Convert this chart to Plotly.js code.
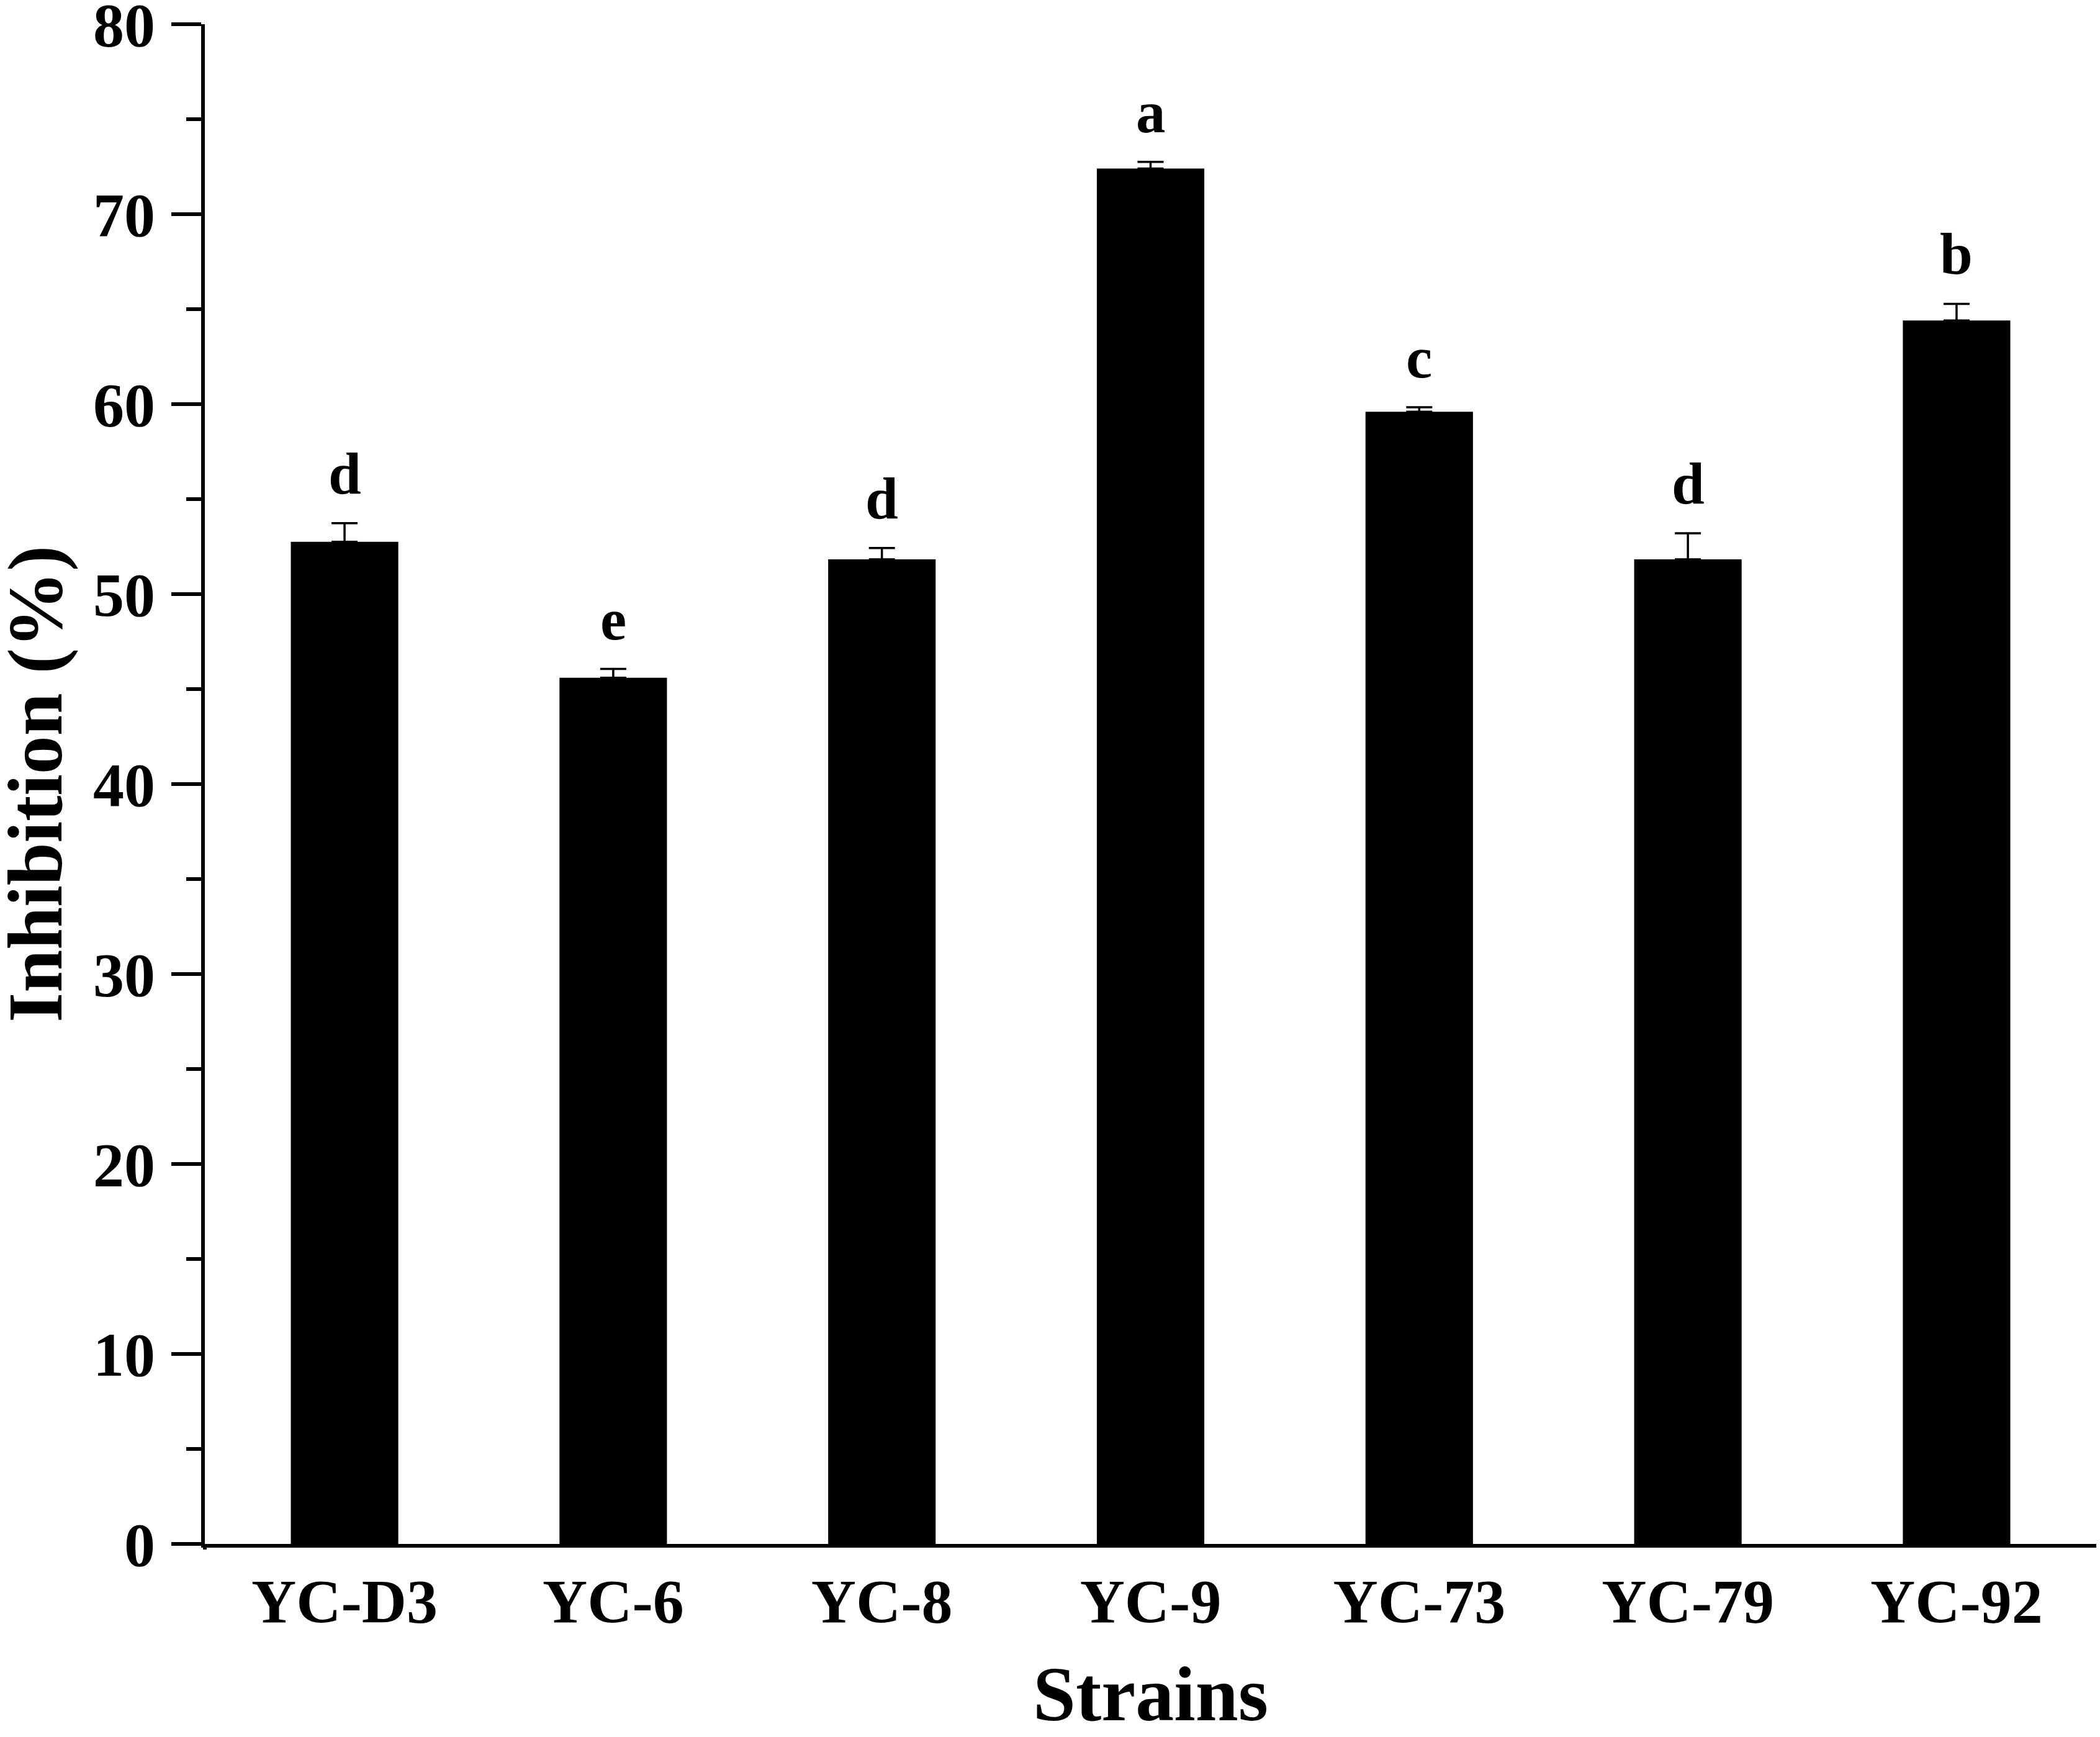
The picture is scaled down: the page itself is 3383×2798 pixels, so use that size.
<!DOCTYPE html>
<html>
<head>
<meta charset="utf-8">
<script src="https://cdn.plot.ly/plotly-3.0.1.min.js"></script>
<style>html,body{margin:0;padding:0;background:#fff;}#chart{width:3383px;height:2798px;}</style>
</head>
<body>
<div id="chart"></div>
<script>
const strains = ['YC-D3', 'YC-6', 'YC-8', 'YC-9', 'YC-73', 'YC-79', 'YC-92'];
const inhibition = [52.75, 45.6, 51.83, 72.4, 59.6, 51.83, 64.4];
const errors = [0.98, 0.46, 0.6, 0.35, 0.24, 1.37, 0.88];
const letters = ['d', 'e', 'd', 'a', 'c', 'd', 'b'];
const yTicks = [0, 10, 20, 30, 40, 50, 60, 70, 80];

const FONT = 'Liberation Serif, Times New Roman, serif';

const trace = {
  type: 'bar',
  x: strains,
  y: inhibition,
  width: 0.4,
  marker: {color: '#000000', line: {width: 0}},
  error_y: {
    type: 'data',
    symmetric: false,
    array: errors,
    arrayminus: errors.map(() => 0),
    color: '#000000',
    thickness: 3.5,
    width: 21
  },
  hoverinfo: 'none'
};

const annotations = strains.map((s, i) => ({
  x: s,
  y: inhibition[i] + errors[i],
  xref: 'x', yref: 'y',
  text: '<b>' + letters[i] + '</b>',
  showarrow: false,
  yanchor: 'bottom',
  yshift: 25,
  font: {family: FONT, size: 95, color: '#000'}
}));

annotations.push({
  xref: 'paper', yref: 'paper',
  x: 0, y: 0.5,
  xanchor: 'center', yanchor: 'middle',
  xshift: -273,
  textangle: -90,
  showarrow: false,
  text: '<b>Inhibition (%)</b>',
  font: {family: FONT, size: 124, color: '#000'}
});

const layout = {
  width: 3383,
  height: 2798,
  paper_bgcolor: '#ffffff',
  plot_bgcolor: '#ffffff',
  margin: {l: 330, r: 6, t: 39, b: 311, pad: 0},
  showlegend: false,
  font: {family: FONT, color: '#000'},
  xaxis: {
    type: 'category',
    range: [-0.52, 6.52],
    showline: true,
    linecolor: '#000',
    linewidth: 6,
    ticks: '',
    showgrid: false,
    zeroline: false,
    tickfont: {family: FONT, size: 100, color: '#000', weight: 'bold'},
    title: {text: '<b>Strains</b>', font: {family: FONT, size: 124, color: '#000'}, standoff: 66},
    automargin: false
  },
  yaxis: {
    range: [0, 80],
    tickvals: yTicks,
    ticktext: yTicks.map(v => '<b>' + v + '</b>'),
    ticklabeloverflow: 'allow',
    ticklabelstandoff: 6,
    showline: true,
    linecolor: '#000',
    linewidth: 6,
    ticks: 'outside',
    ticklen: 48,
    tickwidth: 6,
    tickcolor: '#000',
    minor: {dtick: 5, ticks: 'outside', ticklen: 24, tickwidth: 6, tickcolor: '#000', showgrid: false},
    showgrid: false,
    zeroline: false,
    tickfont: {family: FONT, size: 100, color: '#000'},
    automargin: false
  },
  shapes: [
    {type: 'line', xref: 'paper', yref: 'paper', x0: -0.0148, x1: 0, y0: 0, y1: 0, line: {color: '#000', width: 6}},
    {type: 'line', xref: 'paper', yref: 'paper', x0: 0, x1: 0, y0: 0, y1: -0.0037, line: {color: '#000', width: 6}}
  ],
  annotations: annotations
};

Plotly.newPlot('chart', [trace], layout, {staticPlot: true, displayModeBar: false});
</script>
</body>
</html>
